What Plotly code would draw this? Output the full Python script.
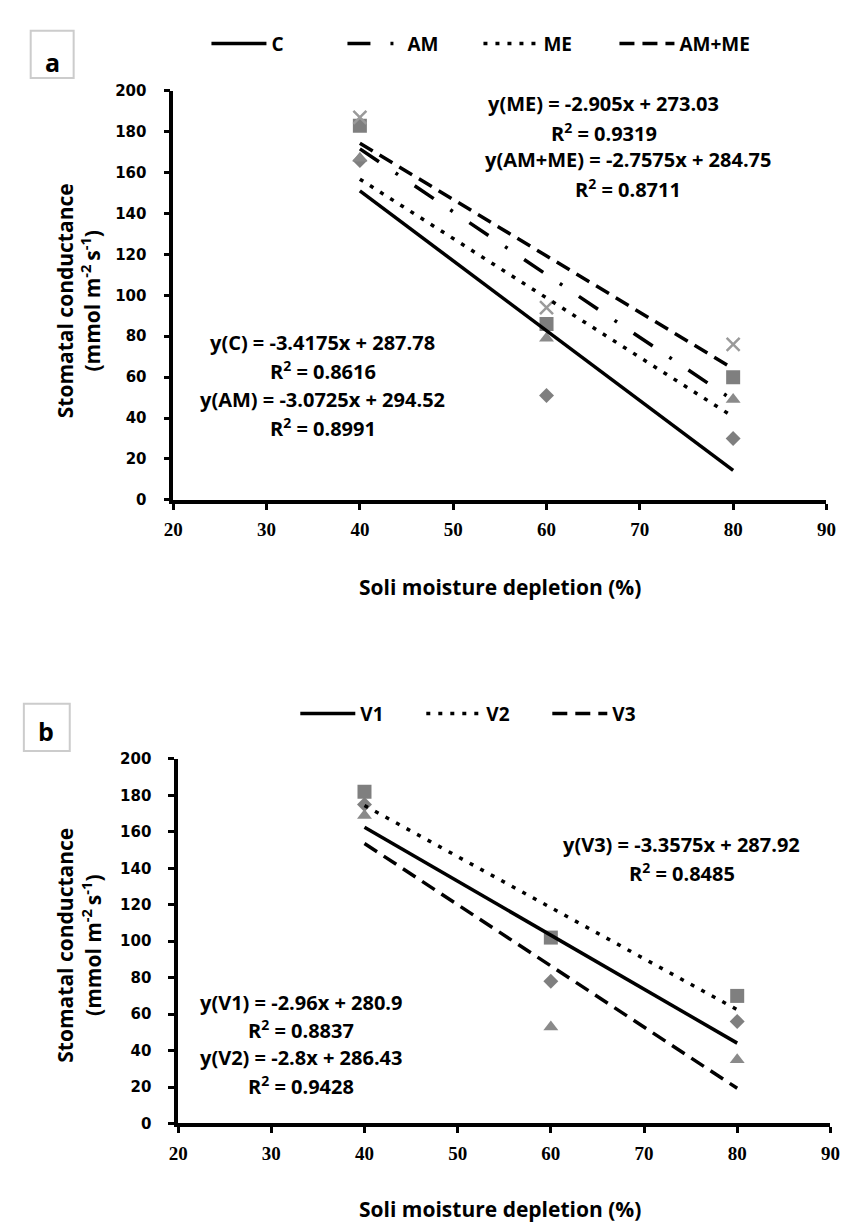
import plotly.graph_objects as go

W, H = 848, 1225

# ---------------- data: panel a ----------------
depletion = [40, 60, 80]
a_names = ["C", "AM", "ME", "AM+ME"]
a_C = [166, 51, 30]
a_AM = [183, 86, 60]
a_ME = [167, 79, 49]
a_AMME = [187, 94, 76]
a_slopes = [-3.4175, -3.0725, -2.905, -2.7575]
a_intercepts = [287.78, 294.52, 273.03, 284.75]
a_r2 = ["0.8616", "0.8991", "0.9319", "0.8711"]

# ---------------- data: panel b ----------------
b_names = ["V1", "V2", "V3"]
b_V1 = [175, 78, 56]
b_V2 = [182, 102, 70]
b_V3 = [169, 53, 35]
b_slopes = [-2.96, -2.8, -3.3575]
b_intercepts = [280.9, 286.43, 287.92]
b_r2 = ["0.8837", "0.9428", "0.8485"]

x_ticks = [20, 30, 40, 50, 60, 70, 80, 90]
y_ticks = [0, 20, 40, 60, 80, 100, 120, 140, 160, 180, 200]

fit_x = [40, 80]


def px(x):
    return x / W


def py(y):
    return 1 - y / H


fig = go.Figure()

GREY = "#7f7f7f"
marker_styles = [
    dict(symbol="diamond", size=11.5, color=GREY),
    dict(symbol="square", size=14, color=GREY),
    dict(symbol="triangle-up", size=13, color="#8a8a8a"),
    dict(symbol="x-thin", size=13, color="#9a9a9a", line=dict(width=2.5, color="#9a9a9a")),
]
DOT = "4px,8px"
DASH = "15px,8px"
DASHDOT = "23px,20px,3px,20px"
line_dashes_a = ["solid", DASHDOT, DOT, DASH]
LW = 3.5

a_series = [a_C, a_AM, a_ME, a_AMME]
for vals, ms in zip(a_series, marker_styles):
    fig.add_trace(go.Scatter(x=depletion, y=vals, mode="markers", marker=ms,
                             showlegend=False, xaxis="x", yaxis="y"))
for name, m, c, d in zip(a_names, a_slopes, a_intercepts, line_dashes_a):
    fig.add_trace(go.Scatter(x=fit_x, y=[m * v + c for v in fit_x], mode="lines",
                             name=name, line=dict(color="black", width=LW, dash=d),
                             xaxis="x", yaxis="y", legend="legend"))

b_series = [b_V1, b_V2, b_V3]
line_dashes_b = ["solid", DOT, DASH]
for vals, ms in zip(b_series, marker_styles[:3]):
    fig.add_trace(go.Scatter(x=depletion, y=vals, mode="markers", marker=ms,
                             showlegend=False, xaxis="x2", yaxis="y2"))
for name, m, c, d in zip(b_names, b_slopes, b_intercepts, line_dashes_b):
    fig.add_trace(go.Scatter(x=fit_x, y=[m * v + c for v in fit_x], mode="lines",
                             name=name, line=dict(color="black", width=LW, dash=d),
                             xaxis="x2", yaxis="y2", legend="legend2"))

axis_common = dict(showline=True, linewidth=3.5, linecolor="black", ticks="outside",
                   ticklen=6, tickwidth=3, tickcolor="black", showgrid=False,
                   zeroline=False, fixedrange=True)
xfont = dict(family="Liberation Serif", size=19, color="black", weight="bold")
yfont = dict(family="DejaVu Sans", size=15, color="black", weight="bold")
leg_font = dict(family="Open Sans", size=19, color="black", weight="bold")

fig.update_layout(
    width=W, height=H, margin=dict(l=0, r=0, t=0, b=0),
    plot_bgcolor="white", paper_bgcolor="white",
    xaxis=dict(domain=[px(159), px(828)], range=[20, 90], tickvals=x_ticks, tickfont=xfont,
               anchor="y", ticklabelstandoff=4, **axis_common),
    yaxis=dict(domain=[py(490), py(75)], range=[0, 200], tickvals=y_ticks,
               tickfont=yfont, anchor="x", ticklabelstandoff=14, **axis_common),
    xaxis2=dict(domain=[px(164), px(832)], range=[20, 90], tickvals=x_ticks, tickfont=xfont,
                anchor="y2", ticklabelstandoff=4, **axis_common),
    yaxis2=dict(domain=[py(1123), py(753)], range=[0, 200], tickvals=y_ticks,
                tickfont=yfont, anchor="x2", ticklabelstandoff=14, **axis_common),
    legend=dict(orientation="h", x=px(193), y=py(27), xanchor="left", yanchor="middle",
                font=leg_font, itemwidth=55, entrywidth=66, bgcolor="rgba(0,0,0,0)"),
    legend2=dict(orientation="h", x=px(284), y=py(707), xanchor="left", yanchor="middle",
                 font=leg_font, itemwidth=55, entrywidth=56, bgcolor="rgba(0,0,0,0)"),
)

ann_font = dict(family="Open Sans", size=20, color="black", weight="bold")


def fmt_eq(label, m, c):
    return f"y({label}) = {m:g}x + {c:g}"


annotations = []
# equation label positions (centre x, centre y of equation line)
a_text_pos = [(312, 330), (312, 388), (600, 88), (625, 145)]
for i, (cx, cy) in enumerate(a_text_pos):
    annotations.append(dict(x=px(cx), y=py(cy), text=fmt_eq(a_names[i], a_slopes[i], a_intercepts[i])))
    annotations.append(dict(x=px(cx), y=py(cy + 29), text=f"R<sup>2</sup> = {a_r2[i]}"))
b_text_pos = [(290, 1000), (290, 1056), (680, 840)]
for i, (cx, cy) in enumerate(b_text_pos):
    annotations.append(dict(x=px(cx), y=py(cy), text=fmt_eq(b_names[i], b_slopes[i], b_intercepts[i])))
    annotations.append(dict(x=px(cx), y=py(cy + 28), text=f"R<sup>2</sup> = {b_r2[i]}"))
for a in annotations:
    a.update(xref="paper", yref="paper", showarrow=False, font=ann_font,
             xanchor="center", yanchor="middle")

title_font = dict(family="Open Sans", size=21, color="black", weight="bold")
ytitle = "Stomatal conductance<br>(mmol m<sup>-2 </sup>s<sup>-1</sup>)"
for cy in (288, 942):
    annotations.append(dict(x=px(62), y=py(cy), text=ytitle, textangle=-90,
                            xref="paper", yref="paper", showarrow=False, font=title_font,
                            xanchor="center", yanchor="middle"))
for cy in (578, 1210):
    annotations.append(dict(x=px(494), y=py(cy), text="Soli moisture depletion (%)",
                            xref="paper", yref="paper", showarrow=False, font=title_font,
                            xanchor="center", yanchor="middle"))
# panel letters
for letter, cx, cy in (("a", 35, 46), ("b", 29, 725)):
    annotations.append(dict(x=px(cx), y=py(cy), text=letter, xref="paper", yref="paper",
                            showarrow=False,
                            font=dict(family="Open Sans", size=25, color="black", weight="bold"),
                            xanchor="center", yanchor="middle"))
fig.update_layout(annotations=annotations)

shapes = []
for (x0, y0, x1, y1) in ((13, 14, 57, 62), (6, 697, 53, 745)):
    shapes.append(dict(type="rect", xref="paper", yref="paper", x0=px(x0), x1=px(x1),
                       y0=py(y1), y1=py(y0), line=dict(color="#cccccc", width=2)))
fig.update_layout(shapes=shapes)

fig.write_html("out.html")
